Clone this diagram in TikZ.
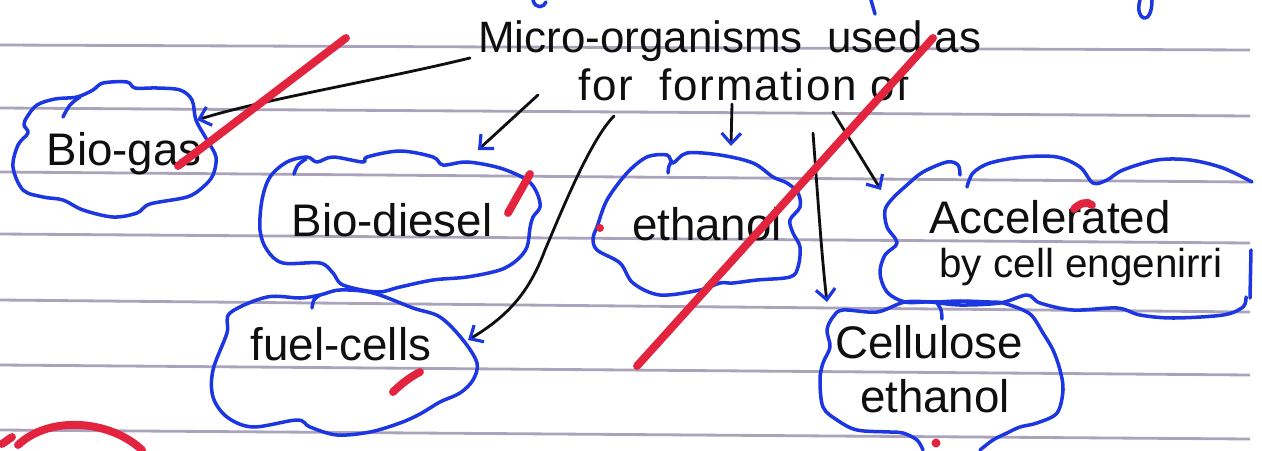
\documentclass[tikz,border=0pt]{standalone}
\usepackage{fontspec}
\setmainfont{Liberation Sans}
\usetikzlibrary{arrows.meta}
\definecolor{hblue}{RGB}{28,55,225}
\definecolor{hred}{RGB}{226,36,62}
\definecolor{rule}{RGB}{150,140,170}
\definecolor{ink}{RGB}{15,15,15}
\tikzset{
  hand/.style={font=\fontsize{26}{30}\selectfont, text=ink, inner sep=0pt},
  handsmall/.style={font=\fontsize{23}{28}\selectfont, text=ink, inner sep=0pt},
  titletext/.style={font=\fontsize{25}{30}\selectfont, text=ink, inner sep=0pt},
  cloud/.style={draw=hblue, line width=2pt, line join=round, line cap=round},
  conn/.style={draw=ink, line width=1.6pt, line cap=round,
    -{Straight Barb[length=6pt,width=11pt,color=hblue,line width=1.8pt]}},
  redmark/.style={draw=hred, line width=4.5pt, line cap=round},
  ruled/.style={draw=rule, line width=1.6pt, opacity=0.8}
}
\begin{document}
\begin{tikzpicture}[x=0.02cm, y=-0.02cm]
\useasboundingbox (0,0) rectangle (1262,450);
\fill[white] (0,0) rectangle (1262,450);
% ruled paper lines
\draw[ruled] (0,45) -- (1250,50);
\draw[ruled] (0,108) -- (1250,116);
\draw[ruled] (0,172) -- (1250,182);
\draw[ruled] (0,234) -- (1250,243);
\draw[ruled] (0,300) -- (1250,312);
\draw[ruled] (0,365) -- (1250,375);
\draw[ruled] (0,430) -- (1250,439);
% partial blue handwriting at the top edge
\draw[cloud] (533,0) .. controls (535,9) and (544,8) .. (546,2);
\draw[cloud] (871,0) -- (875,14);
\draw[cloud] (1140,0) .. controls (1134,20) and (1152,28) .. (1152,0);
% title text
\node[titletext, anchor=base west] (t1) at (478,52) {Micro-organisms\ \ used as};
\node[titletext, anchor=base west] (t2) at (578,100) {\addfontfeature{LetterSpace=4}for\hspace{0.6em}formation of};
% leaf texts
\node[hand, anchor=base] (biogas) at (124,165) {Bio-gas};
\node[hand, anchor=base] (biodiesel) at (392,236) {Bio-diesel};
\node[hand, anchor=base] (ethanol) at (707,240) {ethanol};
\node[hand, anchor=base] (accel) at (1050,233) {Accelerated};
\node[handsmall, anchor=base] (bycell) at (1081,277) {by cell engenirri};
\node[hand, anchor=base] (fuel) at (341,360) {fuel-cells};
\node[hand, anchor=base] (cellu) at (929,358) {Cellulose};
\node[hand, anchor=base] (ceth) at (935,412) {ethanol};
% clouds
\draw[cloud] plot[smooth cycle, tension=0.55] coordinates {(27,117) (37,105) (55,99) (77,97) (93,90) (103,83) (127,82) (135,88) (157,88) (180,90) (192,100) (196,120) (207,140) (216,157) (213,175) (203,187) (187,197) (150,204) (137,213) (113,217) (83,210) (63,200) (43,197) (23,190) (13,167) (18,145) (28,133) (24,125)};
\draw[cloud] plot[smooth, tension=0.6] coordinates {(63,117) (70,105) (80,97)};
\draw[cloud] plot[smooth cycle, tension=0.55] coordinates {(260,230) (262,200) (270,177) (287,162) (307,157) (317,162) (333,157) (363,162) (367,157) (400,151) (433,157) (443,165) (467,162) (500,168) (527,180) (537,193) (540,207) (533,217) (530,228) (527,247) (517,260) (500,270) (467,277) (433,280) (400,287) (377,292) (343,285) (333,273) (320,263) (283,263) (267,250)};
\draw[cloud] plot[smooth, tension=0.6] coordinates {(294,174) (298,165) (306,159)};
\draw[cloud] plot[smooth cycle, tension=0.55] coordinates {(597,227) (607,200) (627,173) (647,157) (667,155) (673,163) (687,153) (720,155) (753,163) (773,177) (787,183) (798,193) (800,207) (790,220) (793,233) (800,247) (798,267) (790,277) (757,280) (733,283) (720,283) (700,290) (660,295) (633,283) (620,263) (597,250) (593,238)};
\draw[cloud] plot[smooth, tension=0.6] coordinates {(668,173) (669,166) (672,161)};
\draw[cloud] plot[smooth, tension=0.55] coordinates {(960,175) (958,165) (947,162) (923,172) (907,185) (893,198) (885,210) (887,227) (897,243) (885,255) (880,273) (887,292) (905,302) (930,302) (960,305) (1000,303) (1027,295) (1040,303) (1073,310) (1117,308) (1140,315) (1173,318) (1223,315) (1243,307) (1246,297)};
\draw[cloud] plot[smooth, tension=0.55] coordinates {(967,187) (973,173) (990,163) (1023,157) (1057,157) (1080,167) (1093,183) (1107,180) (1123,170) (1157,160) (1190,160) (1223,168) (1252,182)};
\draw[cloud] (1251,250) -- (1250,298);
\draw[cloud] plot[smooth cycle, tension=0.55] coordinates {(230,313) (267,297) (300,298) (320,295) (340,290) (373,293) (413,308) (440,317) (463,340) (477,363) (473,380) (460,393) (440,402) (420,414) (400,423) (370,432) (337,435) (310,427) (297,420) (253,427) (227,417) (213,397) (213,370) (227,333)};
\draw[cloud] plot[smooth, tension=0.6] coordinates {(312,308) (314,300) (320,295)};
\draw[cloud] plot[smooth, tension=0.55] coordinates {(923,450) (917,440) (903,433) (890,432) (857,430) (837,420) (823,407) (820,380) (823,363) (830,347) (827,330) (833,317) (843,310) (877,312) (905,302) (935,302) (960,301) (990,302) (1003,303) (1023,310) (1033,317) (1043,333) (1053,350) (1060,370) (1063,390) (1057,413) (1037,423) (1020,427) (1007,433) (993,440) (980,450)};
\draw[cloud] plot[smooth, tension=0.6] coordinates {(937,303) (941,310) (942,319)};
% connector coordinates
\coordinate (s1) at (470,58);
\coordinate (e1) at (197,120);
\coordinate (s2) at (538,95);
\coordinate (e2) at (478,150);
\coordinate (s3) at (614,116);
\coordinate (e3) at (468,340);
\coordinate (s4) at (732,104);
\coordinate (e4) at (731,146);
\coordinate (s5) at (813,133);
\coordinate (e5) at (827,302);
\coordinate (s6) at (833,112);
\coordinate (e6) at (881,190);
% connectors
\draw[conn] (s1) .. controls (380,80) and (260,100) .. (e1);
\draw[conn] (s2) -- (e2);
\draw[conn] (s3) .. controls (590,140) and (560,215) .. (545,250) .. controls (530,290) and (510,315) .. (e3);
\draw[conn] (s4) -- (e4);
\draw[conn] (s5) .. controls (818,200) and (822,260) .. (e5);
\draw[conn] (s6) -- (e6);
% red marks
\draw[redmark] (346,38) -- (178,166);
\draw[redmark] (530,174) -- (508,213);
\fill[hred] (600,228) circle (4);
\draw[redmark] (933,38) -- (637,366);
\draw[redmark] (393,392) .. controls (402,383) and (412,376) .. (420,372);
\draw[redmark] (2,444) -- (12,437);
\draw[redmark] (18,445) .. controls (50,415) and (110,420) .. (142,450);
\draw[redmark] (1074,209) .. controls (1080,203) and (1087,201) .. (1092,205);
\fill[hred] (936,443) circle (4.5);
\end{tikzpicture}
\end{document}
